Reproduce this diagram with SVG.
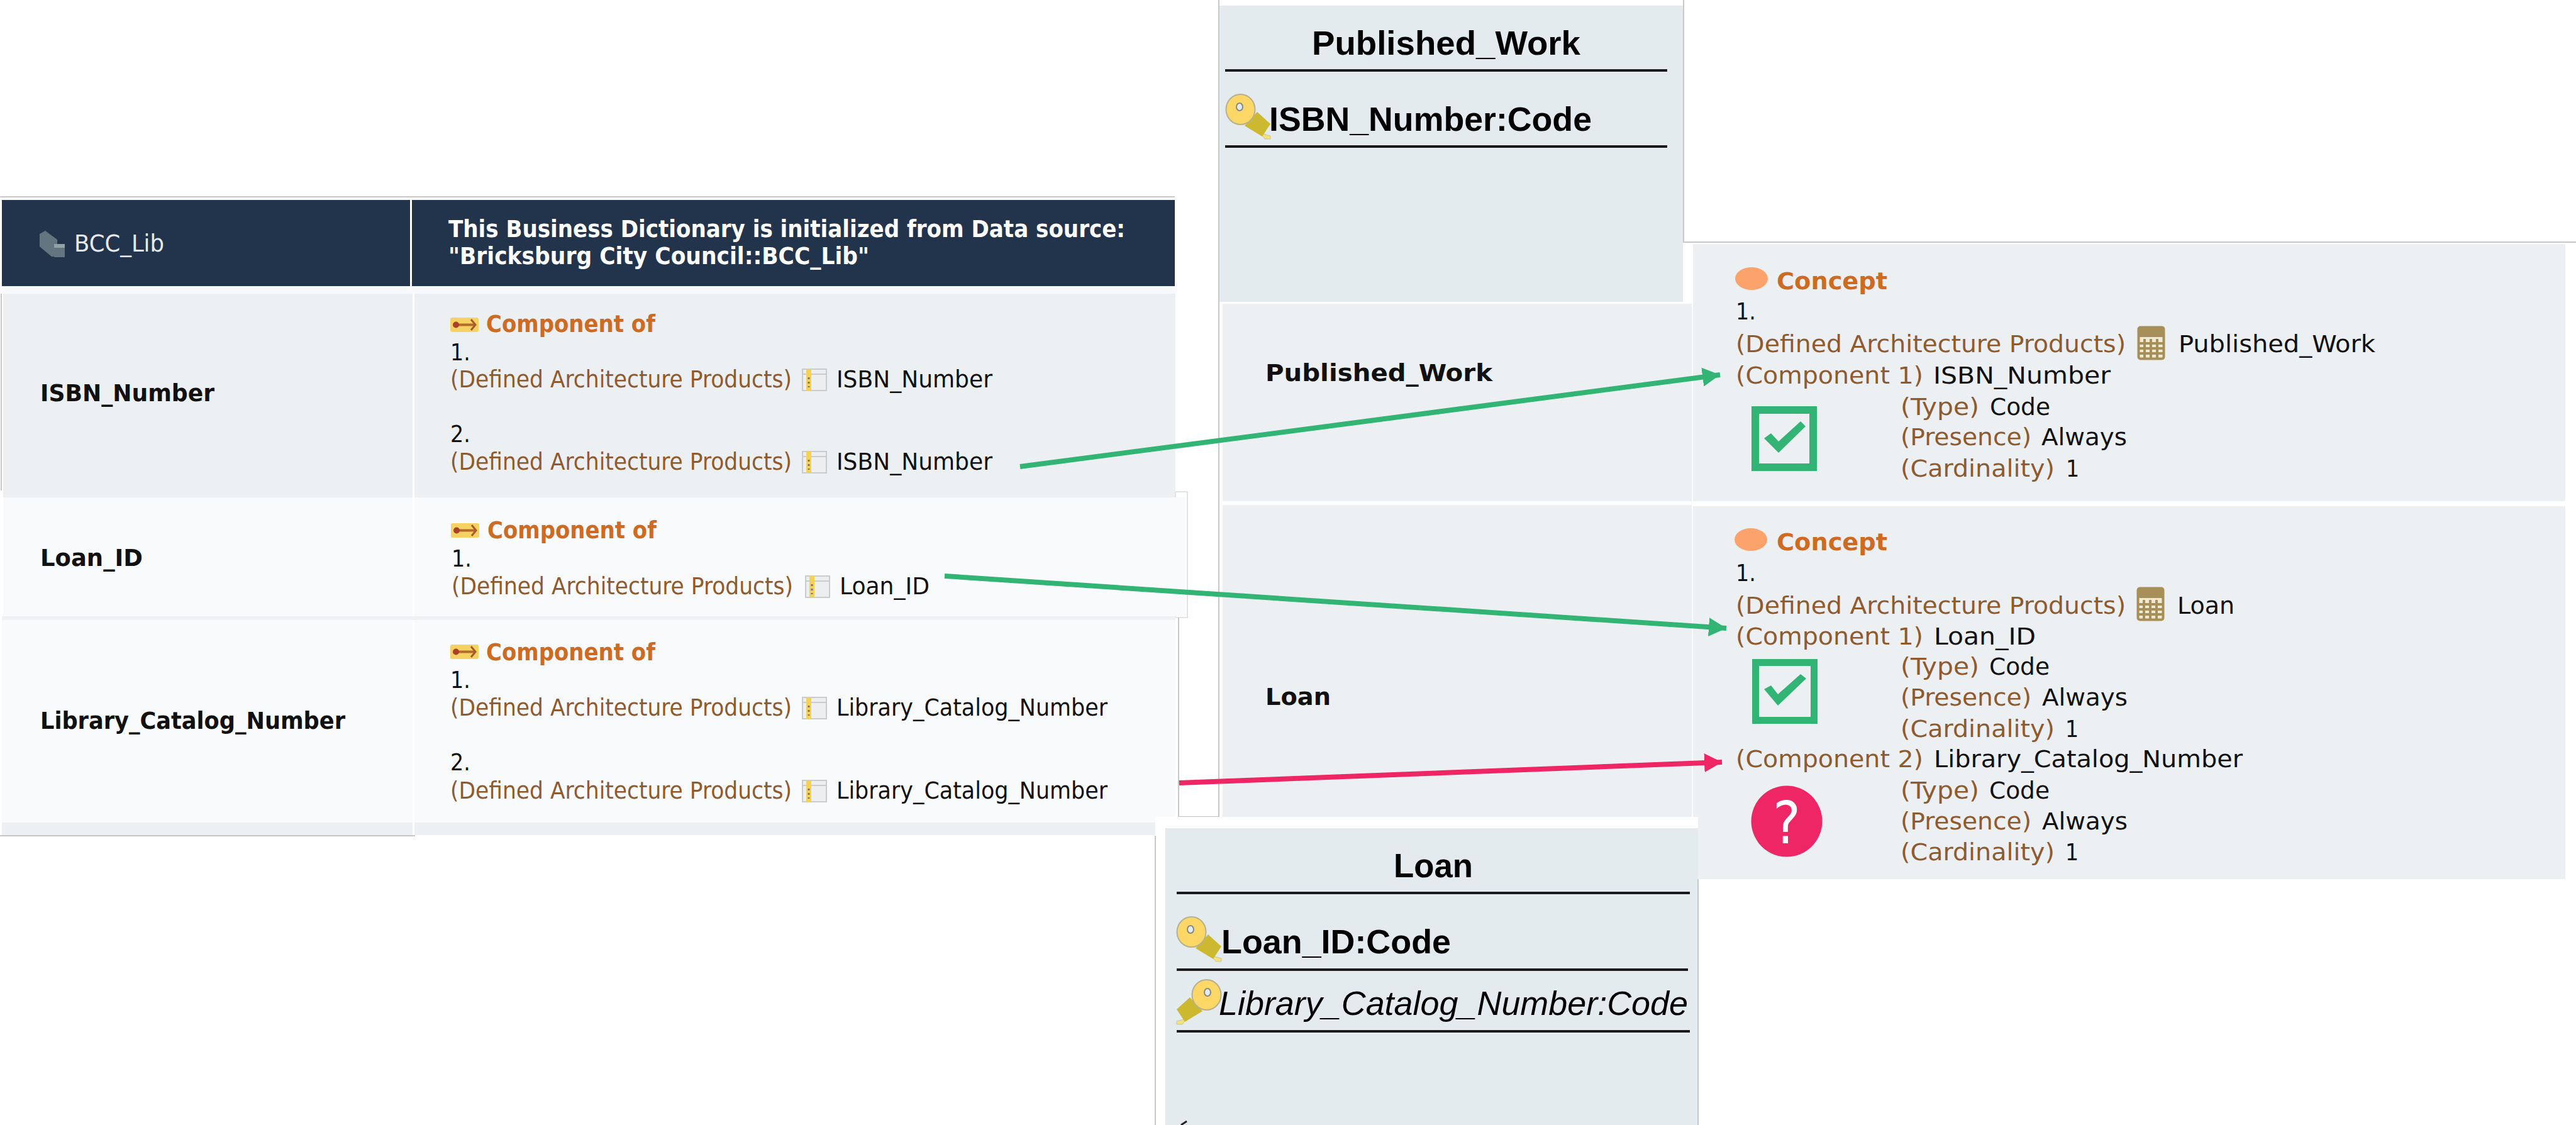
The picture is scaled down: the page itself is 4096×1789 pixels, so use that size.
<svg xmlns="http://www.w3.org/2000/svg" xmlns:xlink="http://www.w3.org/1999/xlink" width="4096" height="1789" viewBox="0 0 4096 1789">
<style>
text{font-family:"DejaVu Sans Condensed","DejaVu Sans","Noto Sans",sans-serif;font-stretch:condensed;font-size:37px;fill:#111}
.b{font-weight:bold}
.w{fill:#fff;font-weight:bold}
.o{fill:#cf6a22;font-weight:bold}
.m{fill:#8f5a2e}
.a{font-family:"Liberation Sans",Arial,sans-serif;font-stretch:normal;font-size:54px;font-weight:bold;fill:#000}
.rule{stroke:#1a1a1a;stroke-width:4}
.thin{stroke:#c8c8c8;stroke-width:2;fill:none}
.g{stroke:#32b574;stroke-width:8;fill:none}
.p{stroke:#ee2666;stroke-width:8;fill:none}
</style>
<defs>
<marker id="ag" markerUnits="userSpaceOnUse" markerWidth="30" markerHeight="30" refX="28" refY="15" orient="auto"><path d="M0 0L28 15L0 30Z" fill="#32b574"/></marker>
<marker id="ap" markerUnits="userSpaceOnUse" markerWidth="30" markerHeight="30" refX="28" refY="15" orient="auto"><path d="M0 0L28 15L0 30Z" fill="#ee2666"/></marker>
<g id="col"><rect x="1" y="1" width="38" height="34" fill="#eceef0" stroke="#c9cccc" stroke-width="2"/><path d="M1 9H39" stroke="#c9cccc" stroke-width="2"/><rect x="7" y="1" width="8" height="34" fill="#f5d155"/><path d="M11 14v3M11 21v3M11 28v2" stroke="#777" stroke-width="3"/></g>
<g id="rel"><rect width="45" height="23" rx="3" fill="#f6d263"/><path d="M6 11.500H38" stroke="#b5692a" stroke-width="4"/><circle cx="9" cy="11.500" r="5" fill="#a8402a"/><path d="M33 3L40 11.500L33 20" stroke="#a8582a" stroke-width="3" fill="none"/></g>
<g id="calc"><rect x="1.500" y="1.500" width="40" height="50" rx="3" fill="#f1e9d2" stroke="#a68f58" stroke-width="4"/><rect x="2" y="2" width="39" height="15" fill="#a68f58"/><path d="M2 27H41M2 35H41M2 43H41M11 20V50M21 20V50M31 20V50" stroke="#a68f58" stroke-width="4"/></g>
<g id="key"><path d="M56 62L71 66V71H62Z" fill="#f3e27a" stroke="#c8c4a0" stroke-width="1"/><path d="M30 50L50 28L71 47L58 67Z" fill="#cdb92f"/><ellipse cx="23.500" cy="24" rx="23" ry="24" fill="#fbd765" stroke="#b8b090" stroke-width="2"/><ellipse cx="22" cy="20" rx="5" ry="6" fill="#e4ebef" stroke="#888" stroke-width="2"/></g>
</defs>
<rect width="4096" height="1789" fill="#fff"/>

<g id="dictionary-table">
<path class="thin" d="M0 313H1868M2 465V780"/>
<rect x="0" y="455" width="1872" height="12" fill="#f8f9fb"/>
<rect x="3" y="318" width="649" height="137" fill="#22344c"/>
<rect x="655" y="318" width="1213" height="137" fill="#22344c"/>
</g>
<g id="header-left">
<path d="M63 372L72 367L91 381V408L82 408L63 392Z" fill="#64757f"/><rect x="86" y="388" width="17" height="21" fill="#64757f"/><rect x="86" y="388" width="17" height="6" fill="#93a1a6"/>
<text x="118" y="400" textLength="143" lengthAdjust="spacingAndGlyphs" style="fill:#e6eaee">BCC_Lib</text>
</g>
<g id="header-right">
<text class="w" x="713" y="377" textLength="1076" lengthAdjust="spacingAndGlyphs">This Business Dictionary is initialized from Data source:</text>
<text class="w" x="713" y="420" textLength="669" lengthAdjust="spacingAndGlyphs">"Bricksburg City Council::BCC_Lib"</text>
</g>
<g id="row-isbn">
<rect x="5" y="467" width="651" height="325" fill="#edf0f3"/><rect x="659" y="467" width="1210" height="325" fill="#edf0f3"/>
<text class="b" x="64" y="638" textLength="277" lengthAdjust="spacingAndGlyphs">ISBN_Number</text>
<use xlink:href="#rel" x="716" y="505"/>
<text class="o" x="773" y="528" textLength="269" lengthAdjust="spacingAndGlyphs">Component of</text>
<text x="716" y="573">1.</text>
<text class="m" x="716" y="616" textLength="543" lengthAdjust="spacingAndGlyphs">(Defined Architecture Products)</text>
<use xlink:href="#col" x="1275" y="586"/>
<text x="1330" y="616" textLength="248" lengthAdjust="spacingAndGlyphs">ISBN_Number</text>
<text x="716" y="703">2.</text>
<text class="m" x="716" y="747" textLength="543" lengthAdjust="spacingAndGlyphs">(Defined Architecture Products)</text>
<use xlink:href="#col" x="1275" y="717"/>
<text x="1330" y="747" textLength="248" lengthAdjust="spacingAndGlyphs">ISBN_Number</text>
</g>
<g id="row-loan-id">
<rect x="1869" y="782" width="19" height="200" style="fill:#fff;stroke:#e4e4e4;stroke-width:2"/>
<rect x="5" y="791" width="1880" height="189" fill="#f9fafc"/>
<rect x="656" y="791" width="3" height="189" fill="#fff"/>
<text class="b" x="64" y="900" textLength="163" lengthAdjust="spacingAndGlyphs">Loan_ID</text>
<use xlink:href="#rel" x="717" y="832"/>
<text class="o" x="775" y="856" textLength="269" lengthAdjust="spacingAndGlyphs">Component of</text>
<text x="718" y="901">1.</text>
<text class="m" x="718" y="945" textLength="543" lengthAdjust="spacingAndGlyphs">(Defined Architecture Products)</text>
<use xlink:href="#col" x="1280" y="915"/>
<text x="1335" y="945" textLength="143" lengthAdjust="spacingAndGlyphs">Loan_ID</text>
</g>
<g id="row-library">
<rect x="3" y="980" width="1866" height="6" fill="#eff1f4"/>
<rect x="3" y="986" width="653" height="322" fill="#f9fafc"/><rect x="659" y="986" width="1210" height="322" fill="#f9fafc"/>
<rect x="3" y="1308" width="653" height="20" fill="#edf0f3"/><rect x="659" y="1308" width="1210" height="20" fill="#edf0f3"/>
<path class="thin" d="M0 1329H660"/>
<text class="b" x="64" y="1159" textLength="485" lengthAdjust="spacingAndGlyphs">Library_Catalog_Number</text>
<use xlink:href="#rel" x="716" y="1025"/>
<text class="o" x="773" y="1050" textLength="269" lengthAdjust="spacingAndGlyphs">Component of</text>
<text x="716" y="1094">1.</text>
<text class="m" x="716" y="1138" textLength="543" lengthAdjust="spacingAndGlyphs">(Defined Architecture Products)</text>
<use xlink:href="#col" x="1275" y="1108"/>
<text x="1330" y="1138" textLength="431" lengthAdjust="spacingAndGlyphs">Library_Catalog_Number</text>
<text x="716" y="1225">2.</text>
<text class="m" x="716" y="1270" textLength="543" lengthAdjust="spacingAndGlyphs">(Defined Architecture Products)</text>
<use xlink:href="#col" x="1275" y="1240"/>
<text x="1330" y="1270" textLength="431" lengthAdjust="spacingAndGlyphs">Library_Catalog_Number</text>
</g>

<g id="concept-table">
<path class="thin" d="M1874 982V1299H1938M1938 0V1299"/>
<path class="thin" d="M2677 0V385H4096"/>
<rect x="1944" y="483" width="746" height="314" fill="#edf0f3"/>
<rect x="1944" y="803" width="746" height="496" fill="#edf0f3"/>
<rect x="2692" y="388" width="1387" height="409" fill="#edf0f3"/>
<rect x="2692" y="805" width="1387" height="593" fill="#edf0f3"/>
</g>
<g id="row-published-work">
<text class="b" x="2012" y="606" textLength="361" lengthAdjust="spacingAndGlyphs">Published_Work</text>
<ellipse cx="2785" cy="443" rx="26" ry="18" fill="#fba36b"/>
<text class="o" x="2825" y="460" textLength="176" lengthAdjust="spacingAndGlyphs">Concept</text>
<text x="2760" y="508">1.</text>
<text class="m" x="2760" y="560" textLength="620" lengthAdjust="spacingAndGlyphs">(Defined Architecture Products)</text>
<use xlink:href="#calc" x="3399" y="519"/>
<text x="3464" y="560" textLength="313" lengthAdjust="spacingAndGlyphs">Published_Work</text>
<text class="m" x="2760" y="610" textLength="298" lengthAdjust="spacingAndGlyphs">(Component 1)</text>
<text x="3074" y="610" textLength="282" lengthAdjust="spacingAndGlyphs">ISBN_Number</text>
<text class="m" x="3022" y="660" textLength="125" lengthAdjust="spacingAndGlyphs">(Type)</text><text x="3164" y="660" textLength="96" lengthAdjust="spacingAndGlyphs">Code</text>
<text class="m" x="3022" y="708" textLength="208" lengthAdjust="spacingAndGlyphs">(Presence)</text><text x="3246" y="708" textLength="136" lengthAdjust="spacingAndGlyphs">Always</text>
<text class="m" x="3022" y="758" textLength="245" lengthAdjust="spacingAndGlyphs">(Cardinality)</text><text x="3285" y="758">1</text>
<rect x="2791" y="652" width="92" height="91" fill="none" stroke="#32b574" stroke-width="12"/>
<path d="M2805 697L2816 689L2828 702L2863 670L2871 678L2828 720Z" fill="#32b574"/>
</g>
<g id="row-loan">
<text class="b" x="2012" y="1121" textLength="104" lengthAdjust="spacingAndGlyphs">Loan</text>
<ellipse cx="2784" cy="858" rx="26" ry="18" fill="#fba36b"/>
<text class="o" x="2825" y="875" textLength="176" lengthAdjust="spacingAndGlyphs">Concept</text>
<text x="2760" y="924">1.</text>
<text class="m" x="2760" y="976" textLength="620" lengthAdjust="spacingAndGlyphs">(Defined Architecture Products)</text>
<use xlink:href="#calc" x="3398" y="934"/>
<text x="3462" y="976" textLength="91" lengthAdjust="spacingAndGlyphs">Loan</text>
<text class="m" x="2760" y="1025" textLength="298" lengthAdjust="spacingAndGlyphs">(Component 1)</text>
<text x="3075" y="1025" textLength="162" lengthAdjust="spacingAndGlyphs">Loan_ID</text>
<text class="m" x="3022" y="1073" textLength="125" lengthAdjust="spacingAndGlyphs">(Type)</text><text x="3163" y="1073" textLength="96" lengthAdjust="spacingAndGlyphs">Code</text>
<text class="m" x="3022" y="1122" textLength="208" lengthAdjust="spacingAndGlyphs">(Presence)</text><text x="3247" y="1122" textLength="136" lengthAdjust="spacingAndGlyphs">Always</text>
<text class="m" x="3022" y="1172" textLength="245" lengthAdjust="spacingAndGlyphs">(Cardinality)</text><text x="3284" y="1172">1</text>
<rect x="2791.500" y="1053.500" width="93" height="92" fill="none" stroke="#32b574" stroke-width="11"/>
<path d="M2805 1096L2816 1090L2827 1104L2863 1072L2872 1079L2827 1122Z" fill="#32b574"/>
<text class="m" x="2760" y="1220" textLength="298" lengthAdjust="spacingAndGlyphs">(Component 2)</text>
<text x="3075" y="1220" textLength="491" lengthAdjust="spacingAndGlyphs">Library_Catalog_Number</text>
<text class="m" x="3022" y="1270" textLength="125" lengthAdjust="spacingAndGlyphs">(Type)</text><text x="3163" y="1270" textLength="96" lengthAdjust="spacingAndGlyphs">Code</text>
<text class="m" x="3022" y="1319" textLength="208" lengthAdjust="spacingAndGlyphs">(Presence)</text><text x="3247" y="1319" textLength="136" lengthAdjust="spacingAndGlyphs">Always</text>
<text class="m" x="3022" y="1368" textLength="245" lengthAdjust="spacingAndGlyphs">(Cardinality)</text><text x="3284" y="1368">1</text>
<circle cx="2841" cy="1306" r="56.500" fill="#ee2666"/>
<text x="2841" y="1341" text-anchor="middle" style="fill:#fff;font-size:92px">?</text>
</g>

<g id="connectors">
<path class="g" d="M1622 742L2735 596" marker-end="url(#ag)"/>
<path class="g" d="M1502 916L2745 999" marker-end="url(#ag)"/>
<path class="p" d="M1875 1245L2738 1212" marker-end="url(#ap)"/>
</g>

<g id="entity-published-work">
<rect x="1939" y="9" width="737" height="471" fill="#e4ebef"/>
<text class="a" x="2086" y="87" textLength="427" lengthAdjust="spacingAndGlyphs">Published_Work</text>
<path class="rule" d="M1948 112H2651M1948 233H2651"/>
<use xlink:href="#key" x="1949" y="150"/>
<text class="a" x="2018" y="208" textLength="513" lengthAdjust="spacingAndGlyphs">ISBN_Number:Code</text>
</g>
<g id="entity-loan">
<rect x="1837" y="1299" width="863" height="490" fill="#fff"/>
<rect x="1853" y="1317" width="847" height="472" fill="#e4ebef"/>
<path class="thin" d="M1837 1329V1789M2700 1398V1789"/>
<text class="a" x="2216" y="1395" textLength="126" lengthAdjust="spacingAndGlyphs">Loan</text>
<path class="rule" d="M1871 1420H2687M1871 1542H2684M1871 1640H2687"/>
<use xlink:href="#key" x="1871" y="1458"/>
<text class="a" x="1942" y="1516" textLength="365" lengthAdjust="spacingAndGlyphs">Loan_ID:Code</text>
<use xlink:href="#key" transform="translate(1942 1558) scale(-1 1)"/>
<text class="a" x="1938" y="1614" textLength="746" lengthAdjust="spacingAndGlyphs" style="font-weight:normal;font-style:italic">Library_Catalog_Number:Code</text>
<path d="M1878 1789L1887 1783" stroke="#222" stroke-width="3"/>
</g>
</svg>
